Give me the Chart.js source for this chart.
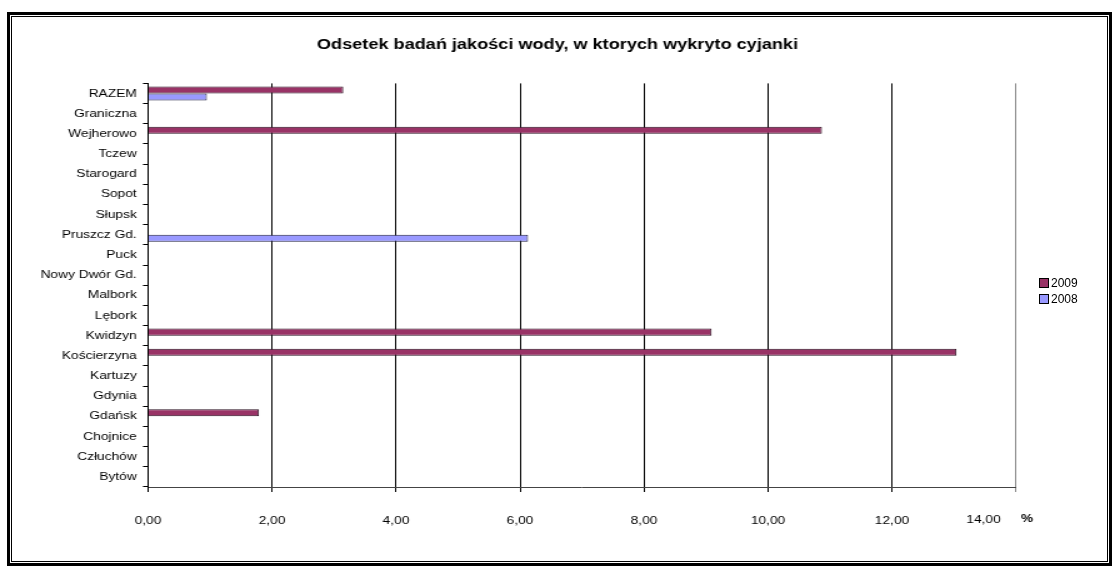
<!DOCTYPE html>
<html>
<head>
<meta charset="utf-8">
<script src="https://cdn.jsdelivr.net/npm/chart.js@4"></script>
<style>
  body { margin: 0; background: #fff; }
  #outer { position: absolute; left: 7px; top: 12px; width: 1099px; height: 548px; border: 3px solid #000; }
  #inner { position: absolute; left: 1px; top: 1px; right: 1px; bottom: 1px; border: 1px solid #000; }
  #myChart { position: absolute; left: 0; top: 0; transform: scaleX(1.25); transform-origin: 0 0; }
  #legend { position: absolute; left: 1039px; top: 276px; font: 12px Arial, "Liberation Sans", sans-serif; color: #000; }
  #legend div { height: 16px; line-height: 14px; white-space: nowrap; }
  #legend span.box { display: inline-block; width: 8px; height: 8px; border: 1px solid #000; margin-right: 2px; vertical-align: -1px; }
</style>
</head>
<body>
<div id="outer"><div id="inner"></div></div>
<canvas id="myChart" width="892" height="571"></canvas>
<div id="legend"></div>
<script>
const categories = ['RAZEM', 'Graniczna', 'Wejherowo', 'Tczew', 'Starogard', 'Sopot', 'Słupsk',
    'Pruszcz Gd.', 'Puck', 'Nowy Dwór Gd.', 'Malbork', 'Lębork', 'Kwidzyn', 'Kościerzyna',
    'Kartuzy', 'Gdynia', 'Gdańsk', 'Chojnice', 'Człuchów', 'Bytów'];
const values2009 = [3.15, 0, 10.87, 0, 0, 0, 0, 0, 0, 0, 0, 0, 9.09, 13.04, 0, 0, 1.79, 0, 0, 0];
const values2008 = [0.95, 0, 0, 0, 0, 0, 0, 6.13, 0, 0, 0, 0, 0, 0, 0, 0, 0, 0, 0, 0];
const xTicks = [0, 2, 4, 6, 8, 10, 12, 14];
const xMax = 14;

const font = { family: 'Arial, "Liberation Sans", sans-serif', size: 11 };
const fmt = (v) => v.toFixed(2).replace('.', ',');

// ostatnia etykieta osi X przesunieta w lewo + "%" obok niej
const unitLabel = {
    id: 'unitLabel',
    afterDraw(chart) {
        const c = chart.ctx;
        const x = chart.scales.x.getPixelForValue(xMax);
        const y = chart.chartArea.bottom + 33;
        c.save();
        c.fillStyle = '#000';
        c.textBaseline = 'middle';
        c.font = '11px Arial, "Liberation Sans", sans-serif';
        c.textAlign = 'center';
        c.fillText(fmt(xMax), x - 26, y);
        c.font = 'bold 11px Arial, "Liberation Sans", sans-serif';
        c.textAlign = 'left';
        c.fillText('%', x + 4, y - 1);
        c.restore();
    }
};

const ctx = document.getElementById('myChart').getContext('2d');
const myChart = new Chart(ctx, {
    type: 'bar',
    data: {
        labels: categories,
        datasets: [
            {
                label: '2009',
                data: values2009,
                backgroundColor: '#993366',
                borderColor: '#2a1020',
                borderWidth: 1,
            },
            {
                label: '2008',
                data: values2008,
                backgroundColor: '#9999ff',
                borderColor: '#202040',
                borderWidth: 1,
            },
        ],
    },
    options: {
        indexAxis: 'y',
        responsive: false,
        animation: false,
        devicePixelRatio: 1,
        barPercentage: 1,
        categoryPercentage: 0.7,
        layout: { padding: { left: 0, right: 0, top: 30, bottom: 0 } },
        plugins: {
            title: {
                display: true,
                text: 'Odsetek badań jakości wody, w ktorych wykryto cyjanki',
                color: '#000',
                font: { family: font.family, size: 14.5, weight: 'bold' },
                padding: { top: 6, bottom: 30 },
            },
            legend: { display: false },
            tooltip: { enabled: false },
        },
        scales: {
            x: {
                min: 0,
                max: xMax,
                afterBuildTicks: (scale) => { scale.ticks = xTicks.map(v => ({ value: v })); },
                afterFit: (scale) => { scale.height = 84; },
                ticks: {
                    color: '#000',
                    font: font,
                    padding: 22,
                    callback: (v) => v === xMax ? '' : fmt(v),
                },
                grid: {
                    color: (c) => c.index === xTicks.length - 1 ? '#888' : '#000',
                    tickLength: 5,
                },
                border: { display: true, color: '#444' },
            },
            y: {
                afterFit: (scale) => { scale.width = 118.4; },
                ticks: { color: '#000', font: font, padding: 5 },
                grid: { drawOnChartArea: false, color: '#000', tickLength: 4 },
                border: { display: true, color: '#000' },
            },
            // pusta os po prawej - miejsce na legende
            yRight: {
                type: 'category',
                position: 'right',
                afterFit: (scale) => { scale.width = 79.2; },
                ticks: { display: false },
                grid: { display: false },
                border: { display: false },
            },
        },
    },
    plugins: [unitLabel],
});

// legenda HTML
const legendEl = document.getElementById('legend');
myChart.data.datasets.forEach(ds => {
    const row = document.createElement('div');
    const box = document.createElement('span');
    box.className = 'box';
    box.style.background = ds.backgroundColor;
    row.appendChild(box);
    row.appendChild(document.createTextNode(ds.label));
    legendEl.appendChild(row);
});
</script>
</body>
</html>
